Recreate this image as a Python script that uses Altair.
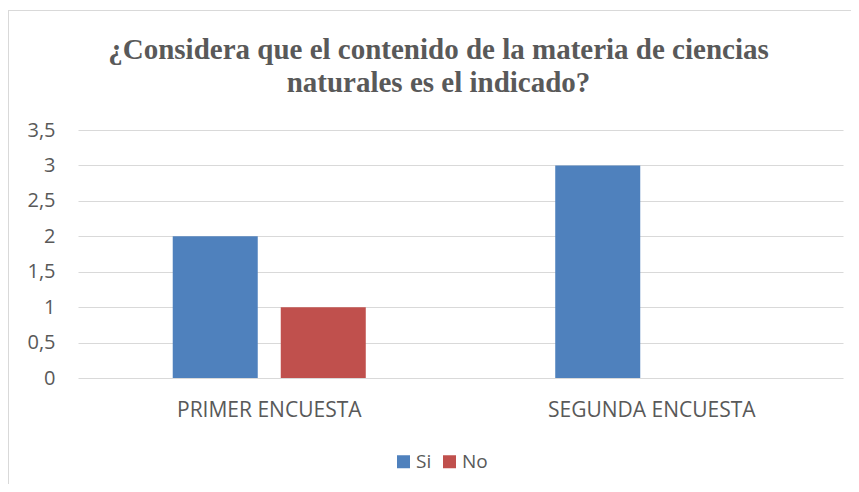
import altair as alt
import pandas as pd

encuestas = ["PRIMER ENCUESTA", "SEGUNDA ENCUESTA"]
respuestas = ["Si", "No"]
si_values = [2, 3]
no_values = [1, 0]
y_ticks = [0, 0.5, 1, 1.5, 2, 2.5, 3, 3.5]
colors = ["#4F81BD", "#C0504D"]
title_lines = ["¿Considera que el contenido de la materia de ciencias", "naturales es el indicado?"]

rows = []
for i, e in enumerate(encuestas):
    rows.append({"encuesta": e, "respuesta": "Si", "valor": si_values[i]})
    rows.append({"encuesta": e, "respuesta": "No", "valor": no_values[i]})
df = pd.DataFrame(rows)

txt = "#595959"
font = "Open Sans"

bars = alt.Chart(df).mark_bar().encode(
    x=alt.X("encuesta:N", sort=encuestas, title=None,
            scale=alt.Scale(paddingInner=0, paddingOuter=0),
            axis=alt.Axis(labelAngle=0, labelPadding=21, ticks=False, domain=False,
                          labelFontSize=21, labelColor=txt, labelFont=font, labelLimit=0)),
    xOffset=alt.XOffset("respuesta:N", sort=respuestas,
                        scale=alt.Scale(paddingInner=0.213, paddingOuter=0.877)),
    y=alt.Y("valor:Q", title=None,
            scale=alt.Scale(domain=[0, 3.5], nice=False),
            axis=alt.Axis(values=y_ticks, ticks=False, domain=False, labelPadding=23,
                          labelFontSize=20, labelColor=txt, labelFont=font,
                          gridColor="#D9D9D9", gridWidth=1,
                          labelExpr="replace(format(datum.value, ''), '.', ',')")),
    color=alt.Color("respuesta:N", sort=respuestas,
                    scale=alt.Scale(domain=respuestas, range=colors),
                    legend=alt.Legend(title=None, orient="none", direction="horizontal",
                                      legendX=316, legendY=322, symbolType="square",
                                      symbolSize=169, symbolStrokeWidth=0,
                                      labelFontSize=19, labelColor=txt, labelFont=font,
                                      columnPadding=8, labelOffset=3)),
)

frame_df = pd.DataFrame({"a": [0]})
frame_left = alt.Chart(frame_df).mark_rule(color="#D9D9D9", strokeWidth=1).encode(
    x=alt.value(-69.5), y=alt.value(-120), y2=alt.value(400))
frame_top = alt.Chart(frame_df).mark_rule(color="#D9D9D9", strokeWidth=1).encode(
    x=alt.value(-70), x2=alt.value(800), y=alt.value(-119.5))

chart = alt.layer(frame_left, frame_top, bars).properties(
    width=765, height=248,
    autosize=alt.AutoSizeParams(type="none"),
    padding={"left": 70, "top": 122, "right": 8, "bottom": 106},
    title=alt.TitleParams(title_lines, anchor="middle", dx=-22, offset=-88,
                          font="Liberation Serif", fontSize=29, fontWeight="bold",
                          color=txt, lineHeight=33),
).configure_view(stroke=None)

chart.save("out.html", embed_options={"renderer": "svg", "actions": False})
